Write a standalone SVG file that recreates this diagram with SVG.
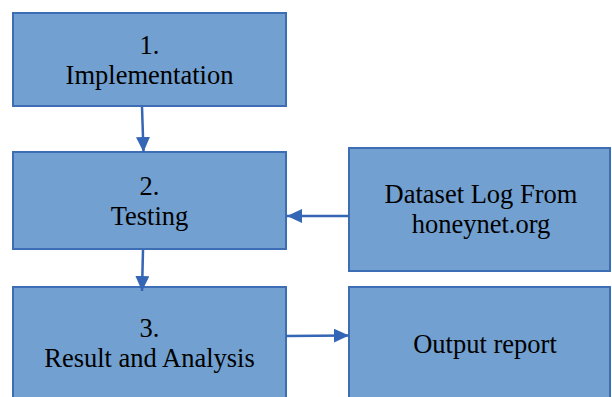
<svg xmlns="http://www.w3.org/2000/svg" width="612" height="397" viewBox="0 0 612 397">
<style>
.box{fill:#72a0d0;stroke:#3d6db5;stroke-width:2}
.lbl{font-family:'Liberation Serif','DejaVu Serif',serif;font-size:26.5px;fill:#000;text-anchor:middle}
.conn{stroke:#3565b5;stroke-width:2.5;fill:none}
</style>
<defs>
<marker id="ah" markerUnits="userSpaceOnUse" markerWidth="16" markerHeight="15" refX="15" refY="7" orient="auto">
<path d="M0,0 L15,7 L0,14 z" fill="#3565b5"/>
</marker>
</defs>
<rect width="612" height="397" fill="#fff"/>
<g id="n1">
<rect class="box" x="13" y="13" width="273" height="93"/>
<text class="lbl" font-family="Liberation Serif, serif" x="149.5" y="54">1.</text>
<text class="lbl" font-family="Liberation Serif, serif" x="149.5" y="84">Implementation</text>
</g>
<g id="n2">
<rect class="box" x="13" y="152" width="273" height="97"/>
<text class="lbl" font-family="Liberation Serif, serif" x="149.5" y="195">2.</text>
<text class="lbl" font-family="Liberation Serif, serif" x="149.5" y="225">Testing</text>
</g>
<g id="n3">
<rect class="box" x="13" y="287" width="273" height="115"/>
<text class="lbl" font-family="Liberation Serif, serif" x="149.5" y="337">3.</text>
<text class="lbl" font-family="Liberation Serif, serif" x="149.5" y="367">Result and Analysis</text>
</g>
<g id="dataset">
<rect class="box" x="349" y="148" width="261" height="123"/>
<text class="lbl" font-family="Liberation Serif, serif" x="481" y="203">Dataset Log From</text>
<text class="lbl" font-family="Liberation Serif, serif" x="481" y="233">honeynet.org</text>
</g>
<g id="output">
<rect class="box" x="349" y="287" width="261" height="115"/>
<text class="lbl" font-family="Liberation Serif, serif" x="485" y="353">Output report</text>
</g>
<g id="connectors">
<line class="conn" x1="142" y1="107" x2="143.5" y2="152" marker-end="url(#ah)"/>
<line class="conn" x1="143" y1="250" x2="142" y2="291" marker-end="url(#ah)"/>
<line class="conn" x1="349" y1="216" x2="287" y2="216" marker-end="url(#ah)"/>
<line class="conn" x1="286" y1="336" x2="349" y2="335.5" marker-end="url(#ah)"/>
</g>
</svg>
